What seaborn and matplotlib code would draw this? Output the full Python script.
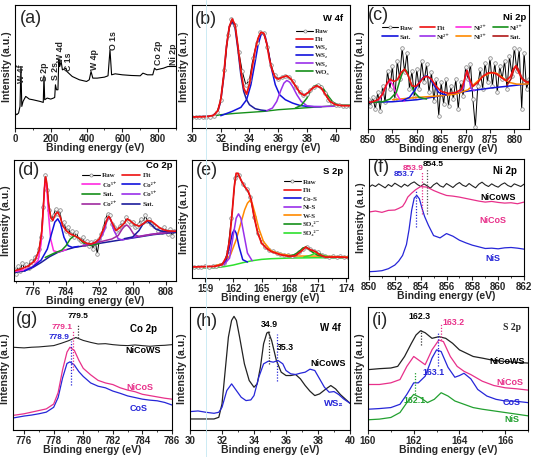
import numpy as np
import matplotlib
matplotlib.use("Agg")
import matplotlib.pyplot as plt
from matplotlib.lines import Line2D
from matplotlib.ticker import MultipleLocator
import seaborn as sns

# ---------------- data (intensities in arbitrary units)
# (a) survey
a_x = [0, 10, 20, 28, 33, 38, 45, 60, 80, 100, 140, 158, 162, 166, 180, 200, 215, 222, 226, 232,
       240, 245, 250, 258, 265, 285, 290, 320, 360, 400, 415, 425, 435, 460, 500, 520, 531, 540, 560, 600,
       650, 700, 715, 740, 770, 780, 790, 830, 855, 900]
a_y = [45, 40, 45, 65, 185, 65, 80, 95, 87, 85, 80, 77, 157, 85, 90, 87, 90, 92, 130, 115,
       115, 207, 185, 200, 175, 180, 170, 155, 145, 140, 145, 170, 150, 150, 153, 157, 235, 160, 163, 160,
       158, 157, 165, 160, 160, 180, 175, 180, 185, 185]
a_names = ["W 4f", "S 2p", "S 2s", "W 4d", "C 1s", "W 4p", "O 1s", "Co 2p", "Ni 2p"]
a_name_x = [38, 164, 225, 252, 299, 443, 549, 803, 886]
a_name_y = [135, 140, 145, 200, 172, 175, 235, 190, 190]

# (b) W 4f fit
b_raw_y = [33, 33, 33, 33, 33, 34, 37, 48, 85, 175, 280, 328, 310, 230, 170, 130, 145, 210, 255, 288,
           285, 245, 190, 158, 148, 153, 157, 152, 140, 122, 108, 98, 102, 115, 124, 128, 122, 105, 85, 74,
           70, 68, 67, 66, 67]
b_fit_x = [30, 31, 31.5, 31.8, 32.0, 32.2, 32.4, 32.6, 32.8, 33.0, 33.2, 33.4, 33.6, 33.8, 34.0, 34.2,
           34.4, 34.6, 34.8, 35.0, 35.2, 35.4, 35.6, 35.8, 36.0, 36.3, 36.6, 36.9, 37.2, 37.5, 37.8, 38.1,
           38.4, 38.7, 39.0, 39.3, 39.6, 40.0, 40.5, 41.0]
b_fit_y = [33, 34, 38, 52, 85, 155, 245, 305, 328, 310, 245, 175, 120, 102, 132, 185,
           235, 270, 288, 285, 255, 205, 172, 152, 147, 153, 157, 147, 127, 107, 98, 107,
           120, 127, 120, 100, 80, 70, 67, 67]
b_ws1_x = [30, 31.4, 31.8, 32.0, 32.2, 32.4, 32.6, 32.8, 33.0, 33.2, 33.4, 33.6, 33.8, 34.0, 34.4, 34.8, 35.2]
b_ws1_y = [33, 36, 50, 80, 150, 245, 305, 320, 300, 235, 160, 110, 85, 70, 58, 54, 52]
b_ws2_x = [32.0, 32.8, 33.4, 33.8, 34.1, 34.4, 34.6, 34.8, 34.95, 35.1, 35.3, 35.5, 35.8, 36.1, 36.5,
           37.0, 37.5, 38.0, 39.0]
b_ws2_y = [37, 50, 62, 85, 130, 200, 250, 280, 285, 275, 235, 185, 130, 100, 85, 75, 68, 65, 64]
b_ws3_x = [35.2, 35.6, 35.9, 36.2, 36.4, 36.6, 36.8, 37.0, 37.3, 37.6, 38.0, 38.5, 39.5, 41.0]
b_ws3_y = [52, 60, 80, 115, 135, 143, 138, 125, 100, 80, 67, 64, 65, 67]
b_wo3_x = [37.2, 37.6, 38.0, 38.3, 38.5, 38.75, 39.0, 39.2, 39.5, 39.8, 40.2, 41.0]
b_wo3_y = [60, 68, 90, 115, 126, 130, 126, 115, 95, 78, 69, 68]
b_base_x = [31.5, 32, 33, 34, 35, 36, 37, 38, 39, 40, 41]
b_base_y = [36, 40, 44, 47, 50, 55, 58, 61, 64, 67, 68]

# (c) Ni 2p fit
c_raw_y = [90, 70, 95, 60, 110, 55, 130, 80, 175, 120, 190, 90, 205, 150, 245, 170, 230, 120, 175, 95,
           180, 120, 205, 140, 195, 110, 170, 85, 150, 40, 140, 75, 150, 70, 130, 90, 150, 60, 140, 100,
           185, 150, 195, 90, 5, 130, 180, 120, 200, 140, 215, 130, 200, 110, 190, 150, 205, 120, 220, 160,
           245, 175, 240, 60, 230, 120, 150]
c_fit_x = [850, 851, 852, 853, 853.8, 854.5, 855.3, 856, 856.8, 857.5, 858.2, 859, 859.8, 860.6, 861.5,
           862.2, 863, 864, 865, 866.5, 868, 869.2, 869.8, 870.3, 870.8, 871.5, 872.5, 873.5, 874.5,
           875.3, 876.3, 877.3, 878.3, 879.2, 879.8, 880.3, 880.9, 881.6, 882.3, 883]
c_fit_y = [80, 82, 88, 105, 135, 150, 143, 148, 170, 180, 162, 130, 128, 140, 156,
           158, 150, 128, 113, 107, 110, 120, 150, 176, 150, 128, 140, 158, 168,
           170, 166, 155, 145, 158, 180, 190, 170, 150, 142, 140]
c_ni2a_x = [851.5, 852.5, 853.3, 854.0, 854.5, 855.0, 855.7, 856.5, 857.5]
c_ni2a_y = [82, 92, 115, 138, 143, 135, 110, 90, 84]
c_ni3a_x = [851, 853, 854.5, 855.8, 856.6, 857.2, 857.6, 858.0, 858.6, 859.4, 860.5, 862]
c_ni3a_y = [80, 82, 90, 110, 150, 175, 180, 172, 145, 112, 95, 90]
c_sat1_x = [857, 858.5, 859.5, 860.5, 861.3, 862, 862.7, 863.5, 864.5, 866]
c_sat1_y = [85, 95, 115, 140, 155, 160, 153, 132, 110, 102]
c_ni2b_x = [868.8, 869.5, 870.0, 870.3, 870.6, 871.1, 871.8]
c_ni2b_y = [112, 122, 160, 176, 160, 122, 115]
c_ni3b_x = [855, 860, 865, 868, 870.5, 872, 873.5, 875, 875.8, 876.6, 877.8, 879, 880.5, 882, 883]
c_ni3b_y = [88, 95, 100, 105, 118, 138, 158, 168, 170, 166, 152, 140, 135, 135, 136]
c_sat2_x = [878.5, 879.3, 879.9, 880.4, 880.9, 881.5, 882.2, 883]
c_sat2_y = [132, 150, 178, 190, 178, 155, 145, 140]
c_base_x = [850, 855, 860, 865, 870, 875, 880, 883]
c_base_y = [80, 82, 88, 100, 113, 123, 131, 136]

# (d) Co 2p fit
d_raw_y = [35, 20, 45, 30, 55, 35, 50, 40, 60, 55,
           70, 75, 95, 130, 220, 315, 270, 210, 185, 195,
           215, 200, 210, 170, 175, 150, 160, 140, 150, 130,
           145, 125, 120, 130, 110, 120, 105, 115, 95, 120,
           80, 125, 140, 160, 185, 200, 195, 170, 160, 150,
           155, 165, 175, 170, 190, 180, 170, 175, 160, 165,
           170, 185, 175, 195, 180, 185, 170, 165, 160, 150,
           155, 145, 160, 150, 140, 155, 135, 150]
d_fit_x = [771.5, 773, 775, 776.5, 777.5, 778.2, 778.6, 778.9, 779.1, 779.4, 779.8, 780.3, 780.8, 781.5,
           782.0, 782.6, 783.2, 784, 785, 786, 787, 788, 789, 790, 791, 792, 793, 794, 794.3, 795, 796,
           797, 798, 798.7, 799.5, 800.5, 801.5, 802.5, 803.5, 804.5, 805.5, 806.5, 807.5, 808.5, 810.4]
d_fit_y = [30, 35, 45, 60, 90, 150, 230, 290, 310, 290, 230, 190, 180, 200,
           205, 190, 165, 150, 140, 135, 128, 118, 112, 110, 115, 125, 155, 188, 192, 175, 150,
           160, 172, 185, 178, 168, 163, 170, 180, 178, 168, 158, 152, 149, 148]
d_co3a_x = [771.5, 774, 776, 777.3, 778.0, 778.5, 778.8, 779.1, 779.4, 779.8, 780.3, 781.0, 782.0, 784.0]
d_co3a_y = [28, 33, 42, 62, 110, 200, 275, 305, 272, 195, 125, 90, 86, 93]
d_co2a_x = [774, 776, 778, 779.5, 780.5, 781.3, 782.0, 782.7, 783.5, 784.5, 785.5, 787]
d_co2a_y = [30, 42, 62, 95, 140, 175, 185, 170, 130, 105, 100, 103]
d_sat1_x = [779, 781, 783, 784, 785, 786, 787, 788, 789, 790, 792]
d_sat1_y = [70, 82, 92, 105, 125, 135, 128, 115, 107, 106, 112]
d_co3b_x = [788, 790, 792, 793.2, 793.9, 794.3, 794.8, 795.5, 796.5, 797.5, 800, 805, 810.4]
d_co3b_y = [106, 110, 120, 150, 183, 190, 180, 150, 126, 122, 130, 140, 148]
d_co2b_x = [788, 792, 795, 796.5, 797.5, 798.2, 798.7, 799.3, 800.2, 801.5, 804, 810.4]
d_co2b_y = [104, 116, 125, 135, 155, 165, 166, 158, 140, 132, 138, 147]
d_sat2_x = [798, 800, 801.5, 802.5, 803.5, 804.5, 805.5, 807, 810.4]
d_sat2_y = [126, 131, 150, 170, 178, 168, 155, 148, 146]
d_base_x = [771.5, 774, 776, 778, 780, 782, 784, 786, 790, 795, 800, 805, 810.4]
d_base_y = [25, 30, 40, 55, 72, 85, 93, 100, 108, 118, 128, 138, 145]

# (e) S 2p fit
e_raw_y = [33, 34, 33, 35, 34, 35, 36, 38, 45, 80,
           180, 300, 310, 282, 268, 245, 185, 135, 108, 92,
           84, 80, 76, 72, 70, 68, 66, 70, 78, 88,
           94, 86, 82, 78, 70, 66, 64, 66, 63, 65,
           62, 63, 62]
e_fit_x = [157.6, 160, 160.8, 161.3, 161.6, 161.9, 162.1, 162.3, 162.5, 162.8, 163.2, 163.6, 163.9, 164.2,
           164.6, 165, 165.5, 166, 167, 168, 168.6, 169.2, 169.7, 170.2, 170.7, 171.2, 171.8, 172.5, 173.5, 175]
e_fit_y = [33, 35, 40, 65, 115, 205, 275, 315, 315, 295, 275, 260, 235, 185,
           135, 105, 90, 80, 70, 65, 67, 80, 93, 85, 80, 70, 63, 63, 63, 60]
e_cos_x = [160.6, 161.2, 161.6, 161.9, 162.1, 162.3, 162.6, 163.0, 163.5]
e_cos_y = [38, 50, 95, 135, 145, 135, 95, 55, 48]
e_nis_x = [161.0, 161.6, 162.0, 162.3, 162.55, 162.8, 163.1, 163.5, 164.0]
e_nis_y = [40, 60, 130, 180, 193, 180, 135, 75, 52]
e_ws_x = [160, 161, 161.7, 162.3, 162.8, 163.2, 163.5, 163.75, 164.0, 164.3, 164.7, 165.2, 166, 167,
          168, 169, 171, 175]
e_ws_y = [36, 45, 70, 115, 165, 205, 225, 233, 225, 195, 150, 110, 82, 72, 68, 66, 66, 62]
e_so3_x = [167.8, 168.5, 169.0, 169.4, 169.7, 170.0, 170.4, 171.0, 171.8]
e_so3_y = [65, 70, 80, 90, 93, 88, 78, 68, 64]
e_so4_x = [169.5, 170.2, 170.6, 170.9, 171.2, 171.6, 172.3]
e_so4_y = [63, 68, 73, 75, 72, 67, 63]
e_base_x = [157.6, 160, 161, 162, 163, 164, 165, 166, 168, 171, 175]
e_base_y = [30, 31, 34, 39, 46, 52, 56, 58, 60, 61, 60]

# (f) Ni 2p comparison
f_ncws_y = [268, 275, 270, 278, 272, 266, 276, 270, 280, 274, 268, 277, 271, 279, 284, 276, 270, 278,
            272, 265, 275, 281, 272, 268, 279, 273, 267, 276, 282, 274, 270, 279, 272, 266, 277, 283,
            275, 270, 278, 272, 268, 276, 281, 273, 269, 278, 274, 270, 277]
f_ncs_x = [850, 850.5, 851, 851.5, 852, 852.3, 852.6, 852.8, 853.0, 853.3, 853.6, 854, 854.5, 855,
           855.5, 856, 856.5, 857, 857.5, 858, 858.5, 859, 859.5, 860, 860.5, 861, 861.5, 862]
f_ncs_y = [193, 196, 192, 198, 199, 204, 210, 222, 238, 250, 260, 270, 268, 258,
           250, 243, 241, 238, 234, 230, 226, 223, 225, 222, 220, 221, 218, 223]
f_nis_x = [850, 850.5, 851, 851.5, 852, 852.3, 852.6, 852.9, 853.1, 853.3, 853.5, 853.7, 853.9, 854.1,
           854.3, 854.6, 855, 855.5, 856, 856.5, 857, 857.5, 858, 858.5, 859, 859.5, 860, 860.5, 861,
           861.5, 862]
f_nis_y = [13, 14, 16, 22, 33, 45, 62, 95, 140, 198, 235, 243, 233, 205,
           180, 153, 122, 115, 128, 120, 108, 100, 93, 88, 83, 84, 82, 85, 86, 84, 81]

# (g) Co 2p comparison
g_ncws_x = [775.25, 775.6, 776, 776.5, 777, 777.5, 778, 778.5, 779, 779.5, 780, 780.5, 781, 781.5,
            782, 782.5, 783, 783.5, 784, 784.5, 785, 785.5, 786]
g_ncws_y = [255, 254, 253, 255, 256, 258, 260, 267, 275, 285, 276, 270, 265, 266,
            263, 261, 260, 262, 260, 258, 260, 261, 263]
g_x = [775.25, 776, 776.5, 777, 777.5, 778, 778.3, 778.6, 778.9, 779.1, 779.4, 779.7, 780, 780.5,
       781, 781.5, 782, 782.5, 783, 783.5, 784, 784.5, 785, 785.5, 786]
g_ncs_y = [45, 50, 55, 60, 65, 80, 115, 185, 240, 255, 245, 215, 190, 170,
           153, 145, 140, 130, 123, 118, 110, 106, 102, 98, 95]
g_cos_y = [37, 43, 46, 50, 55, 70, 100, 160, 205, 210, 200, 180, 165, 145,
           135, 130, 120, 113, 105, 100, 95, 92, 90, 85, 77]

# (h) W 4f comparison
h_ncws_x = [30, 31, 31.5, 31.8, 32.0, 32.2, 32.4, 32.6, 32.75, 32.9, 33.1, 33.4, 33.7, 34.0, 34.2,
            34.4, 34.6, 34.8, 34.9, 35.1, 35.4, 35.7, 36.0, 36.3, 36.6, 36.9, 37.2, 37.5, 37.8, 38.1,
            38.5, 38.8, 39.1, 39.4, 39.7, 40]
h_ncws_y = [33, 33, 33, 38, 78, 178, 278, 328, 340, 328, 278, 198, 148, 128, 138,
            188, 258, 290, 293, 268, 208, 173, 163, 163, 166, 153, 133, 116, 103, 108,
            123, 133, 123, 106, 93, 80]
h_ws2_x = [30, 30.5, 31, 31.5, 31.8, 32.0, 32.3, 32.6, 32.9, 33.2, 33.5, 33.8, 34.0, 34.3, 34.6, 34.9,
           35.2, 35.5, 35.8, 36.0, 36.3, 36.6, 36.9, 37.2, 37.5, 37.8, 38.1, 38.4, 38.7, 39.0, 39.3,
           39.6, 40]
h_ws2_y = [55, 57, 53, 50, 53, 68, 118, 138, 118, 98, 88, 90, 103, 158, 198, 206,
           203, 208, 198, 178, 168, 166, 170, 173, 182, 178, 153, 128, 113, 115, 106, 93, 80]

# (i) S 2p comparison
i_ncws_x = [160, 160.5, 161, 161.3, 161.6, 161.9, 162.1, 162.3, 162.5, 162.8, 163.1, 163.4, 163.7,
            164.0, 164.3, 164.6, 165, 165.5, 166, 166.5, 167]
i_ncws_y = [183, 186, 188, 193, 223, 263, 288, 301, 295, 278, 283, 278, 263,
            243, 233, 223, 218, 211, 208, 205, 203]
i_ncs_x = [160, 160.5, 161, 161.4, 161.7, 162.0, 162.2, 162.5, 162.8, 163.1, 163.3, 163.6, 163.9,
           164.2, 164.5, 165, 165.5, 166, 166.5, 167]
i_ncs_y = [138, 138, 143, 153, 193, 223, 213, 198, 243, 273, 268, 223, 193,
           178, 168, 148, 135, 128, 125, 121]
i_cos_x = [160, 160.5, 161, 161.4, 161.7, 162.0, 162.2, 162.5, 162.8, 163.0, 163.2, 163.5, 163.8,
           164.0, 164.2, 164.5, 164.8, 165.2, 165.6, 166, 166.5, 167]
i_cos_y = [63, 65, 68, 78, 108, 143, 143, 163, 218, 243, 238, 190, 160,
           165, 172, 155, 123, 103, 93, 88, 87, 83]
i_nis_x = [160, 160.5, 161, 161.4, 161.7, 162.0, 162.3, 162.6, 162.9, 163.2, 163.5, 163.8, 164.2,
           164.6, 165, 165.5, 166, 166.5, 167]
i_nis_y = [31, 33, 38, 53, 83, 108, 98, 83, 93, 113, 103, 88, 78,
           68, 63, 58, 53, 48, 43]

# ---------------- style
RED = "#ee1111"
BLUE = "#1212dd"
NAVY = "#1c1c9c"
VIOLET = "#9a30ea"
DPURPLE = "#a02aa0"
GREEN = "#15901a"
LGREEN = "#2ee02e"
ORANGE = "#ff8a00"
MAGENTA = "#ff2ae0"
DRED = "#b01818"
PINK = "#e8308a"
SANS = ["Liberation Sans", "DejaVu Sans"]
SERIF = ["Liberation Serif", "DejaVu Serif"]

sns.set_theme(style="ticks")
plt.rcParams["font.family"] = SANS
plt.rcParams["font.weight"] = "bold"
plt.rcParams["axes.labelweight"] = "bold"

W, H = 533, 457
fig = plt.figure(figsize=(W / 100, H / 100), dpi=100)


def new_ax(l, t, r, b):
    return fig.add_axes([l / W, 1 - b / H, (r - l) / W, (b - t) / H])


def setup(ax, xlim, ylim, major, minor, tag, tagxy):
    ax.set_xlim(*xlim)
    ax.set_ylim(*ylim)
    ax.xaxis.set_major_locator(MultipleLocator(major))
    ax.xaxis.set_minor_locator(MultipleLocator(minor))
    ax.set_yticks([])
    ax.tick_params(axis="x", which="major", direction="out", length=3, width=0.8, pad=1.0, labelsize=7)
    ax.tick_params(axis="x", which="minor", direction="out", length=1.6, width=0.6)
    ax.set_xlabel("Binding energy (eV)", fontsize=7.5, labelpad=-0.5)
    ax.set_ylabel("Intensity (a.u.)", fontsize=7.5, labelpad=2)
    for s in ax.spines.values():
        s.set_linewidth(0.8)
        s.set_color("black")
    ax.text(tagxy[0], tagxy[1], tag, fontsize=13, fontweight="normal", ha="center", va="center")


def curve(ax, x, y, c, lw=1.0, **kw):
    sns.lineplot(x=x, y=y, ax=ax, color=c, lw=lw, estimator=None, sort=False, legend=False, **kw)


def raw(ax, x, y):
    sns.lineplot(x=x, y=y, ax=ax, color="black", lw=0.7, estimator=None, sort=False, legend=False,
                 marker="o", markersize=2.6, markerfacecolor="#f4f4f4", markeredgecolor="#808080",
                 markeredgewidth=0.5)


def note(ax, x, y, s, c="black", size=6.5, **kw):
    ax.text(x, y, s, color=c, fontsize=size, fontweight="bold", ha="center", va="center", **kw)


def dots(ax, x, y0, y1, c):
    ax.vlines(x, y0, y1, colors=c, linestyles=(0, (1, 1.3)), lw=0.9)


def h(c, lw=1.2, marker=None):
    if marker:
        return Line2D([], [], color=c, lw=lw, marker="o", markersize=2.2, markerfacecolor="#f4f4f4",
                      markeredgecolor="#808080", markeredgewidth=0.5)
    return Line2D([], [], color=c, lw=lw)


def legend(ax, handles, labels, anchor, ncol=1, spacing=0.3, hl=2.6, cs=0.6):
    ax.legend(handles, labels, loc="upper left", bbox_to_anchor=anchor, ncol=ncol, frameon=False,
              prop={"family": SERIF, "weight": "bold", "size": 5}, handlelength=hl, handletextpad=0.3,
              labelspacing=spacing, columnspacing=cs, borderpad=0, borderaxespad=0)


# ---------------- (a)
ax = new_ax(15, 5, 176, 128)
curve(ax, a_x, a_y, "black", lw=0.8)
for s, x, y in zip(a_names, a_name_x, a_name_y):
    ax.text(x, y, s, rotation=90, fontsize=6.3, fontweight="bold", ha="center", va="bottom")
setup(ax, (0, 900), (0, 370), 200, 100, "(a)", (87, 330))

# ---------------- (b)
ax = new_ax(192, 5, 350, 128)
curve(ax, b_base_x, b_base_y, GREEN, lw=1.0)
curve(ax, b_ws1_x, b_ws1_y, NAVY, lw=1.1)
curve(ax, b_ws2_x, b_ws2_y, BLUE, lw=1.1)
curve(ax, b_ws3_x, b_ws3_y, VIOLET, lw=1.1)
curve(ax, b_wo3_x, b_wo3_y, GREEN, lw=1.1)
raw(ax, np.linspace(30, 41, len(b_raw_y)), b_raw_y)
curve(ax, b_fit_x, b_fit_y, RED, lw=1.3)
setup(ax, (30, 41), (0, 370), 2, 1, "(b)", (31.0, 325))
note(ax, 39.8, 330, "W 4f", size=6.8)
legend(ax, [h("black", 0.8, True), h(RED), h(BLUE), h(BLUE), h(VIOLET), h(GREEN)],
       ["Raw", "Fit", "WS₂", "WS₂", "WS₂", "WO₃"], (0.66, 0.81), spacing=0.32, hl=2.4)

# ---------------- (c)
ax = new_ax(368, 5, 529, 129)
raw(ax, np.linspace(850, 883, len(c_raw_y)), c_raw_y)
curve(ax, c_base_x, c_base_y, BLUE, lw=1.1)
curve(ax, c_ni3b_x, c_ni3b_y, ORANGE, lw=1.1)
curve(ax, c_ni2a_x, c_ni2a_y, MAGENTA, lw=1.1)
curve(ax, c_ni3a_x, c_ni3a_y, GREEN, lw=1.1)
curve(ax, c_sat1_x, c_sat1_y, BLUE, lw=1.1)
curve(ax, c_ni2b_x, c_ni2b_y, VIOLET, lw=1.1)
curve(ax, c_sat2_x, c_sat2_y, DRED, lw=1.1)
curve(ax, c_fit_x, c_fit_y, RED, lw=1.2)
setup(ax, (850, 883), (0, 373), 5, 5, "(c)", (852.1, 340))
note(ax, 880.0, 336, "Ni 2p", size=6.8)
legend(ax, [h("black", 0.8, True), h(BLUE), h(RED), h(VIOLET), h(MAGENTA), h(ORANGE), h(GREEN), h(DRED)],
       ["Raw", "Sat.", "Fit", "Ni²⁺", "Ni²⁺", "Ni³⁺", "Ni³⁺", "Sat."], (0.09, 0.84), ncol=4,
       spacing=0.45, hl=2.2, cs=0.9)

# ---------------- (d)
ax = new_ax(14, 160, 176, 281)
raw(ax, np.linspace(771.5, 810.0, len(d_raw_y)), d_raw_y)
curve(ax, d_base_x, d_base_y, NAVY, lw=1.1)
curve(ax, d_co3a_x, d_co3a_y, MAGENTA, lw=1.1)
curve(ax, d_co2a_x, d_co2a_y, BLUE, lw=1.1)
curve(ax, d_sat1_x, d_sat1_y, GREEN, lw=1.1)
curve(ax, d_co3b_x, d_co3b_y, VIOLET, lw=1.1)
curve(ax, d_co2b_x, d_co2b_y, DPURPLE, lw=1.1)
curve(ax, d_sat2_x, d_sat2_y, NAVY, lw=1.1)
curve(ax, d_fit_x, d_fit_y, RED, lw=1.2)
setup(ax, (771.5, 810.4), (0, 360), 8, 4, "(d)", (775.1, 330))
note(ax, 806.4, 345, "Co 2p", size=6.8)
legend(ax, [h("black", 0.8, True), h(MAGENTA), h(GREEN), h(DPURPLE), h(RED), h(BLUE), h(VIOLET), h(NAVY)],
       ["Raw", "Co³⁺", "Sat.", "Co²⁺", "Fit", "Co²⁺", "Co³⁺", "Sat."], (0.42, 0.9), ncol=2,
       spacing=0.55, hl=2.6, cs=0.8)

# ---------------- (e)
ax = new_ax(192, 160, 348, 278)
curve(ax, e_base_x, e_base_y, LGREEN, lw=1.1)
raw(ax, np.linspace(157.8, 174.6, len(e_raw_y)), e_raw_y)
curve(ax, e_ws_x, e_ws_y, ORANGE, lw=1.1)
curve(ax, e_cos_x, e_cos_y, BLUE, lw=1.1)
curve(ax, e_nis_x, e_nis_y, VIOLET, lw=1.1)
curve(ax, e_so3_x, e_so3_y, GREEN, lw=1.1)
curve(ax, e_so4_x, e_so4_y, LGREEN, lw=1.1)
curve(ax, e_fit_x, e_fit_y, RED, lw=1.3)
setup(ax, (157.6, 174.2), (0, 355), 3, 1.5, "(e)", (159.2, 323))
note(ax, 172.6, 320, "S 2p", size=6.8)
legend(ax, [h("black", 0.8, True), h(RED), h(BLUE), h(VIOLET), h(ORANGE), h(GREEN), h(LGREEN)],
       ["Raw", "Fit", "Co-S", "Ni-S", "W-S", "SO₃²⁻", "SO₄²⁻"], (0.59, 0.84), spacing=0.38, hl=2.4)

# ---------------- (f)
ax = new_ax(369, 159, 524, 276)
curve(ax, np.linspace(850, 862, len(f_ncws_y)), f_ncws_y, "#222222", lw=0.8)
curve(ax, f_ncs_x, f_ncs_y, PINK, lw=0.9)
curve(ax, f_nis_x, f_nis_y, "#2626d8", lw=0.9)
dots(ax, 854.5, 188, 323, "#555555")
dots(ax, 854.1, 188, 313, PINK)
dots(ax, 853.6, 148, 258, "#2626d8")
setup(ax, (850, 862), (0, 353), 2, 1, "(f)", (850.95, 326))
note(ax, 853.4, 323, "853.9", PINK, 6)
note(ax, 855.0, 336, "854.5", "black", 6)
note(ax, 852.7, 306, "853.7", "#2626d8", 6)
note(ax, 860.5, 316, "Ni 2p", size=7)
note(ax, 860.0, 238, "NiCoWS", size=6.5)
note(ax, 859.6, 168, "NiCoS", PINK, 6.5)
note(ax, 859.6, 53, "NiS", "#2626d8", 6.5)

# ---------------- (g)
ax = new_ax(13, 307, 172, 430)
curve(ax, g_ncws_x, g_ncws_y, "#222222", lw=0.8)
curve(ax, g_x, g_cos_y, "#2626d8", lw=0.9)
curve(ax, g_x, g_ncs_y, PINK, lw=0.9)
dots(ax, 779.65, 285, 325, "#333333")
dots(ax, 779.3, 185, 305, PINK)
dots(ax, 779.14, 140, 275, "#2626d8")
setup(ax, (775.25, 786), (0, 379), 2, 1, "(g)", (776.2, 340))
note(ax, 779.65, 350, "779.5", "black", 6)
note(ax, 778.57, 317, "779.1", PINK, 6)
note(ax, 778.34, 285, "778.9", "#2626d8", 6)
note(ax, 784.07, 310, "Co 2p", size=7)
note(ax, 784.07, 245, "NiCoWS", size=6.5)
note(ax, 783.8, 130, "NiCoS", PINK, 6.5)
note(ax, 783.75, 65, "CoS", "#2626d8", 6.5)

# ---------------- (h)
ax = new_ax(190, 307, 350, 430)
curve(ax, h_ncws_x, h_ncws_y, "#222222", lw=0.9)
curve(ax, h_ws2_x, h_ws2_y, "#2626d8", lw=0.9)
dots(ax, 34.96, 198, 300, "#333333")
dots(ax, 35.42, 148, 288, "#2626d8")
setup(ax, (30, 40), (0, 368), 2, 1, "(h)", (31.04, 326))
note(ax, 34.96, 316, "34.9", "black", 6.3)
note(ax, 35.94, 248, "35.3", "black", 6.3)
note(ax, 38.8, 306, "W 4f", size=7)
note(ax, 38.65, 198, "NiCoWS", size=6.5)
note(ax, 39.0, 78, "WS₂", "#2626d8", 6.8)

# ---------------- (i)
ax = new_ax(368, 307, 528, 430)
curve(ax, i_ncws_x, i_ncws_y, "#222222", lw=0.9)
curve(ax, i_ncs_x, i_ncs_y, PINK, lw=0.9)
curve(ax, i_cos_x, i_cos_y, "#2626d8", lw=0.9)
curve(ax, i_nis_x, i_nis_y, "#22a030", lw=0.9)
dots(ax, 162.3, 258, 303, "#333333")
dots(ax, 163.19, 273, 323, PINK)
dots(ax, 163.07, 193, 298, "#2626d8")
dots(ax, 162.06, 108, 178, "#22a030")
setup(ax, (160, 167), (0, 373), 2, 1, "(i)", (160.54, 333))
note(ax, 162.27, 345, "162.3", "black", 6.3)
note(ax, 163.73, 325, "163.2", PINK, 6.3)
note(ax, 162.86, 175, "163.1", "#2626d8", 6.3)
note(ax, 162.05, 88, "162.1", "#22a030", 6.3)
ax.text(166.3, 311, "S 2p", fontsize=7, fontweight="bold", ha="center", va="center", family=SERIF)
note(ax, 166.08, 208, "NiCoWS", size=6.5)
note(ax, 166.22, 143, "NiCoS", PINK, 6.5)
note(ax, 166.3, 83, "CoS", "#2626d8", 6.5)
note(ax, 166.3, 33, "NiS", "#22a030", 6.5)

# faint scanner line running down the middle column
fig.add_artist(Line2D([206 / W, 206 / W], [0, 1], transform=fig.transFigure, color="#c4e8f2", lw=0.6))

fig.savefig("out.png", dpi=100)
